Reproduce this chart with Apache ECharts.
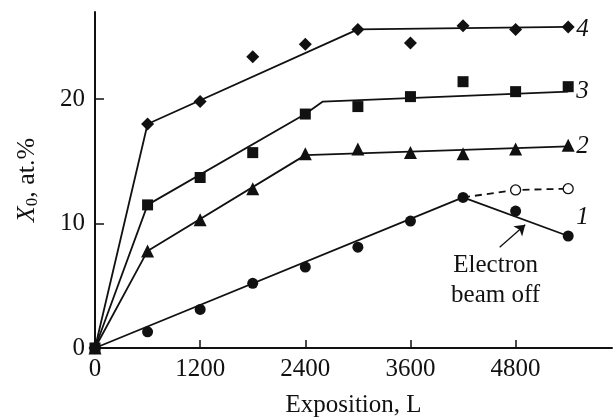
<!DOCTYPE html>
<html>
<head>
<meta charset="utf-8">
<script src="https://cdn.jsdelivr.net/npm/echarts@6/dist/echarts.min.js"></script>
<style>
html,body{margin:0;padding:0;background:#fff;}
#c{width:613px;height:419px;}
</style>
</head>
<body>
<div id="c"></div>
<script>
// ---- data ----
const exposition = [0, 600, 1200, 1800, 2400, 3000, 3600, 4200, 4800, 5400];
const curve1 = [0, 1.3, 3.1, 5.2, 6.5, 8.1, 10.2, 12.1, 11.0, 9.0];
const curve1OffX = [4800, 5400];
const curve1OffY = [12.7, 12.8];
const curve2 = [0, 7.8, 10.3, 12.8, 15.6, 16.0, 15.7, 15.6, 16.0, 16.3];
const curve3 = [0, 11.5, 13.7, 15.7, 18.8, 19.4, 20.2, 21.4, 20.6, 21.0];
const curve4 = [0, 18.0, 19.8, 23.4, 24.4, 25.6, 24.5, 25.9, 25.6, 25.8];

const fit1X = [0, 4200, 5400];
const fit1Y = [0, 12.1, 9.0];
const fit1OffX = [4200, 4800, 5400];
const fit1OffY = [12.1, 12.7, 12.8];
const fit2X = [0, 600, 2400, 5400];
const fit2Y = [0, 7.8, 15.5, 16.2];
const fit3X = [0, 600, 2400, 2600, 5400];
const fit3Y = [0, 11.5, 18.8, 19.8, 20.6];
const fit4X = [0, 600, 3000, 5400];
const fit4Y = [0, 18.0, 25.6, 25.8];

const xTicks = [0, 1200, 2400, 3600, 4800];
const yTicks = [0, 10, 20];
const curveNames = ['1', '2', '3', '4'];
const noteText = 'Electron\nbeam off';
const arrowFrom = [4618, 8.1];
const arrowTo = [4910, 9.9];
const notePos = [4572, 5.4];

// ---- build ----
const zip = (xs, ys) => xs.map((x, i) => [x, ys[i]]);
const FONT = '"Liberation Serif", serif';
const INK = '#111';
const FS = 25;

function fitLine(xs, ys, name, offset, dashed) {
  return {
    type: 'line', data: zip(xs, ys), symbol: 'none', silent: true,
    lineStyle: { color: INK, width: 1.8, type: dashed ? [7, 5] : 'solid' },
    z: 2,
    endLabel: name ? {
      show: true, formatter: name, color: INK, fontFamily: FONT,
      fontStyle: 'italic', fontSize: FS, offset: offset || [0, 0]
    } : { show: false }
  };
}
function marks(xs, ys, symbol, size, fill) {
  return {
    type: 'scatter', data: zip(xs, ys), symbol: symbol, symbolSize: size,
    itemStyle: { color: fill || INK, borderColor: INK, borderWidth: fill ? 1.3 : 0, opacity: 1 },
    z: 5
  };
}

const chart = echarts.init(document.getElementById('c'));
chart.setOption({
  animation: false,
  backgroundColor: '#fff',
  grid: { left: 95, right: 1, top: 12, bottom: 71, containLabel: false, outerBoundsMode: 'none' },
  xAxis: {
    type: 'value', min: 0, max: 5900, interval: 1200,
    name: 'Exposition, L', nameLocation: 'middle', nameGap: 45,
    nameTextStyle: { fontFamily: FONT, fontSize: FS, color: INK },
    axisLine: { show: true, lineStyle: { color: INK, width: 2 } },
    axisTick: { show: true, inside: true, length: 8, lineStyle: { color: INK, width: 1.5 }, customValues: xTicks },
    axisLabel: { fontFamily: FONT, fontSize: FS, color: INK, margin: 9, customValues: xTicks, formatter: v => String(v) },
    splitLine: { show: false }
  },
  yAxis: {
    type: 'value', min: 0, max: 27, interval: 10,
    name: '{i|X}{s|0}, at.%', nameLocation: 'middle', nameGap: 54, nameRotate: 90,
    nameTextStyle: {
      fontFamily: FONT, fontSize: 26, color: INK,
      rich: {
        i: { fontFamily: FONT, fontSize: 26, fontStyle: 'italic', color: INK },
        s: { fontFamily: FONT, fontSize: 17, color: INK, verticalAlign: 'bottom', padding: [10, 0, 0, 0] }
      }
    },
    axisLine: { show: true, lineStyle: { color: INK, width: 2 } },
    axisTick: { show: true, inside: true, length: 9, lineStyle: { color: INK, width: 1.5 }, customValues: yTicks },
    axisLabel: { fontFamily: FONT, fontSize: FS, color: INK, margin: 10, customValues: yTicks, formatter: v => String(v) },
    splitLine: { show: false }
  },
  series: [
    fitLine(fit1X, fit1Y, curveNames[0], [0, -19]),
    fitLine(fit1OffX, fit1OffY, null, null, true),
    fitLine(fit2X, fit2Y, curveNames[1], [0, 0]),
    fitLine(fit3X, fit3Y, curveNames[2], [0, 0]),
    fitLine(fit4X, fit4Y, curveNames[3], [0, 2]),
    marks(exposition, curve1, 'circle', 11),
    marks(curve1OffX, curve1OffY, 'circle', 10, '#fff'),
    marks(exposition, curve2, 'triangle', 13),
    marks(exposition, curve3, 'rect', 11),
    marks(exposition, curve4, 'diamond', 13),
    {
      type: 'scatter', data: [], silent: true,
      markLine: {
        silent: true, symbol: ['none', 'arrow'], symbolSize: 10,
        lineStyle: { color: INK, width: 1.3, type: 'solid' },
        label: { show: false },
        data: [[{ coord: arrowFrom }, { coord: arrowTo }]]
      },
      markPoint: {
        silent: true, symbol: 'circle', symbolSize: 0,
        label: {
          show: true, formatter: noteText, fontFamily: FONT, fontSize: FS,
          color: INK, lineHeight: 30, align: 'center', verticalAlign: 'middle'
        },
        data: [{ coord: notePos }]
      }
    }
  ]
});
</script>
</body>
</html>
